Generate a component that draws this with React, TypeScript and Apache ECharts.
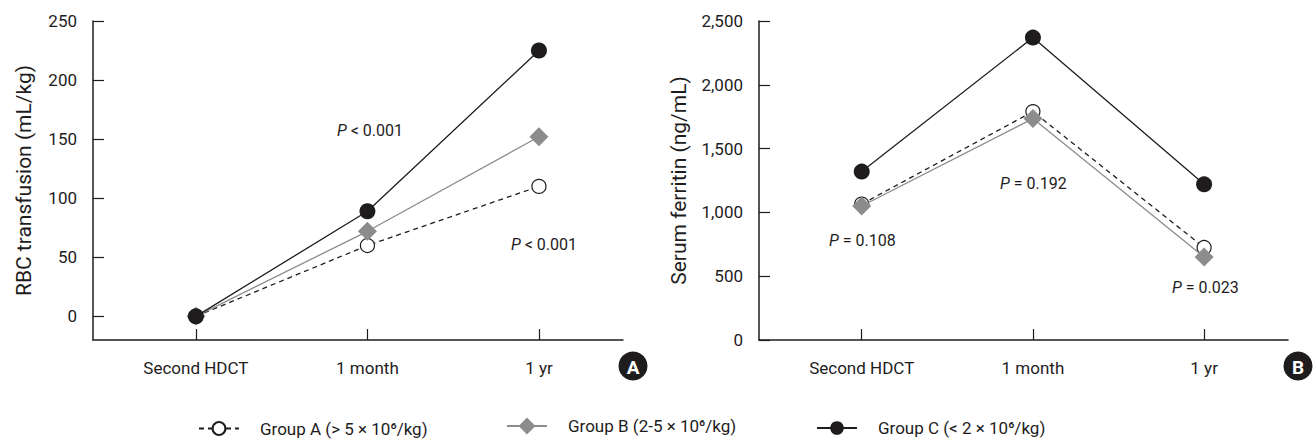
import React, { useEffect, useRef } from "react";
import * as echarts from "echarts";

const categories = ["Second HDCT", "1 month", "1 yr"];
const categoryPositions = [0, 1, 2];

const seriesNames = [
  "Group A (> 5 × 10⁶/kg)",
  "Group B (2-5 × 10⁶/kg)",
  "Group C (< 2 × 10⁶/kg)",
];

// Panel A: RBC transfusion (mL/kg)
const rbcGroupA = [0, 60, 110];
const rbcGroupB = [0, 72, 152];
const rbcGroupC = [0, 89, 225];
const rbcTicks = [0, 50, 100, 150, 200, 250];

// Panel B: Serum ferritin (ng/mL)
const ferGroupA = [1065, 1790, 725];
const ferGroupB = [1050, 1735, 650];
const ferGroupC = [1320, 2370, 1220];
const ferTicks = [0, 500, 1000, 1500, 2000, 2500];

const pLabelsA = [
  { text: "P < 0.001", x: 337, y: 130 },
  { text: "P < 0.001", x: 511, y: 244 },
];
const pLabelsB = [
  { text: "P = 0.108", x: 829, y: 240 },
  { text: "P = 0.192", x: 1000, y: 183 },
  { text: "P = 0.023", x: 1172, y: 287 },
];

const FONT = 'Roboto, "Liberation Sans", sans-serif';
const INK = "#1e1c1d";
const GRAY = "#8c8c8c";

function toPoints(values: number[]) {
  return values.map((v, i) => [categoryPositions[i], v]);
}

function makeXAxis(gridIndex: number) {
  return {
    type: "value",
    gridIndex,
    min: -0.6,
    max: 2.49,
    splitLine: { show: false },
    axisLine: { show: true, onZero: false, lineStyle: { color: INK, width: 1.5 } },
    axisTick: {
      show: true,
      inside: true,
      length: 11,
      customValues: categoryPositions,
      lineStyle: { color: INK, width: 1.2 },
    },
    axisLabel: {
      customValues: categoryPositions,
      formatter: (v: number) => categories[Math.round(v)] ?? "",
      color: INK,
      fontFamily: FONT,
      fontSize: 17,
      margin: 19,
    },
  };
}

function pText(p: { text: string; x: number; y: number }) {
  const rest = p.text.slice(1);
  return {
    type: "text",
    x: p.x,
    y: p.y,
    style: {
      text: "{i|P}" + rest,
      fill: INK,
      font: `16px ${FONT}`,
      verticalAlign: "middle",
      align: "left",
      rich: { i: { fontStyle: "italic", fontSize: 16, fontFamily: FONT, fill: INK } },
    },
  };
}

function badge(letter: string, cx: number, cy: number) {
  return [
    { type: "circle", shape: { cx, cy, r: 14.5 }, style: { fill: INK } },
    {
      type: "text",
      x: cx,
      y: cy + 1,
      style: {
        text: letter,
        fill: "#ffffff",
        font: `bold 19px ${FONT}`,
        align: "center",
        verticalAlign: "middle",
      },
    },
  ];
}

const seriesStyles = [
  {
    symbol: "circle",
    symbolSize: 14,
    itemStyle: { color: "#ffffff", borderColor: INK, borderWidth: 1.2 },
    lineStyle: { color: INK, width: 1.3, type: [5, 4] },
  },
  {
    symbol: "diamond",
    symbolSize: 19,
    itemStyle: { color: GRAY, borderWidth: 0 },
    lineStyle: { color: GRAY, width: 1.3, type: "solid" },
  },
  {
    symbol: "circle",
    symbolSize: 16,
    itemStyle: { color: INK, borderWidth: 0 },
    lineStyle: { color: INK, width: 1.3, type: "solid" },
  },
];

function lineSeries(idx: number, axisIndex: number, values: number[]) {
  return {
    type: "line",
    name: seriesNames[idx],
    xAxisIndex: axisIndex,
    yAxisIndex: axisIndex,
    data: toPoints(values),
    showSymbol: true,
    emphasis: { disabled: true },
    z: 2 + idx,
    ...seriesStyles[idx],
  };
}

function makeYAxis(gridIndex: number, min: number, max: number, ticks: number[], name: string, nameGap: number) {
  return {
    type: "value",
    gridIndex,
    min,
    max,
    splitLine: { show: false },
    axisLine: { show: true, onZero: false, lineStyle: { color: INK, width: 1.5 } },
    axisTick: {
      show: true,
      inside: true,
      length: 11,
      customValues: ticks,
      lineStyle: { color: INK, width: 1.2 },
    },
    axisLabel: {
      customValues: ticks,
      formatter: (v: number) => v.toLocaleString("en-US"),
      color: INK,
      fontFamily: FONT,
      fontSize: 17,
      margin: 16,
    },
    name,
    nameLocation: "middle",
    nameRotate: 90,
    nameGap,
    nameTextStyle: { color: INK, fontFamily: FONT, fontSize: 21 },
  };
}

const legendLefts = [198, 506, 816];
const legendIconHeights = [16, 21, 17];

export default function App() {
  const ref = useRef<HTMLDivElement>(null);

  useEffect(() => {
    if (!ref.current) return;
    const chart = echarts.init(ref.current, null, { renderer: "svg" });
    const option: any = {
      animation: false,
      backgroundColor: "#ffffff",
      grid: [
        { left: 93, right: 1315 - 623, top: 21, bottom: 443 - 340 },
        { left: 759, right: 1315 - 1288, top: 21, bottom: 443 - 340 },
      ],
      xAxis: [makeXAxis(0), makeXAxis(1)],
      yAxis: [
        makeYAxis(0, -20, 250, rbcTicks, "RBC transfusion (mL/kg)", 59),
        makeYAxis(1, 0, 2500, ferTicks, "Serum ferritin (ng/mL)", 70),
      ],
      legend: seriesNames.map((n, i) => ({
        left: legendLefts[i],
        top: 428 - legendIconHeights[i] / 2,
        padding: 0,
        itemWidth: 40,
        itemHeight: legendIconHeights[i],
        selectedMode: false,
        data: [n],
        textStyle: {
          color: INK,
          fontFamily: FONT,
          fontSize: 17,
          padding: [0, 0, 0, 16],
        },
      })),
      graphic: [
        ...pLabelsA.map(pText),
        ...pLabelsB.map(pText),
        ...badge("A", 633, 366),
        ...badge("B", 1298, 366),
      ],
      series: [
        lineSeries(0, 0, rbcGroupA),
        lineSeries(1, 0, rbcGroupB),
        lineSeries(2, 0, rbcGroupC),
        lineSeries(0, 1, ferGroupA),
        lineSeries(1, 1, ferGroupB),
        lineSeries(2, 1, ferGroupC),
      ],
    };
    chart.setOption(option);
    return () => chart.dispose();
  }, []);

  return (
    <div
      ref={ref}
      style={{ position: "absolute", left: 0, top: 0, width: 1315, height: 443 }}
    />
  );
}
